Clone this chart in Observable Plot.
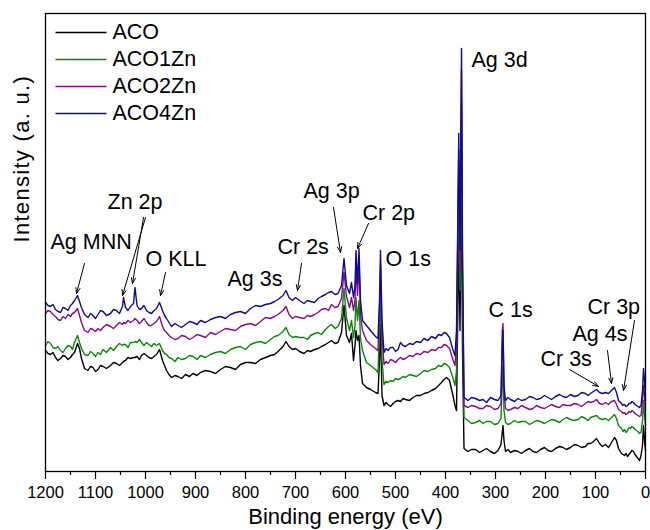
<!DOCTYPE html>
<html>
<head>
<meta charset="utf-8">
<script src="https://cdn.jsdelivr.net/npm/d3@7"></script>
<script src="https://cdn.jsdelivr.net/npm/@observablehq/plot@0.6"></script>
<style>
  html, body { margin: 0; padding: 0; background: #fff; }
  #chart svg { font-family: "Liberation Sans", Arial, sans-serif; }
</style>
</head>
<body>
<div id="chart"></div>
<script>
// Binding energy grid (eV)
const energy = [
  1200,1195,1190,1185,1180,1175,1170,1165,1160,1155,
  1150,1146,1142,1136,1132,1128,1122,1115,1110,1105,
  1100,1095,1090,1085,1078,1070,1064,1058,1052,1046,
  1044,1040,1035,1030,1024,1021,1017,1012,1008,1003,
  998,993,988,983,978,972,966,962,958,953,
  948,941,935,928,920,912,905,897,890,880,
  870,860,850,840,830,820,810,800,790,780,
  770,760,750,742,735,725,719,713,706,700,
  692,683,676,670,662,655,648,640,634,628,
  621,615,608,603,598,592,588,584,581,579,
  576,573,570,566,558,550,540,535,532,530,
  527,523,519,515,510,505,500,495,490,485,
  480,472,465,458,450,443,435,428,420,414,
  408,403,398,392,386,381,378,375,373.5,371,
  368,366,363,355,348,340,332,325,318,310,
  302,295,289,286.5,285,283,280,275,270,262,
  255,248,240,232,225,218,210,202,195,188,
  180,172,165,158,150,142,135,128,120,115,
  110,104,98,92,86,80,74,68,62,58,
  54,48,45,42,39,36,33,30,27,24,
  21,18,15,12,9,6,4,2,0
];
// Intensities (a. u.)
const aco = [
  150,147,146,148,143,140,142,145,144,141,
  143,146,148,157,152,142,132,130,134,133,
  129,131,135,134,132,135,138,137,135,138,
  139,140,143,142,143,143,144,141,145,147,
  145,143,142,144,146,151,140,135,130,126,
  123,125,124,122,126,124,127,125,128,130,
  129,127,131,134,133,131,136,138,138,137,
  141,143,145,146,149,154,159,154,151,152,
  149,147,150,149,151,152,154,156,158,160,
  157,158,168,195,165,158,167,140,155,170,
  160,165,135,117,113,111,108,107,140,177,
  105,95,98,96,94,97,99,100,99,102,
  101,100,103,105,105,107,108,110,112,115,
  118,121,123,120,107,95,90,200,270,170,
  340,150,52,49,51,51,48,50,52,49,
  47,50,56,68,75,60,49,51,48,50,
  49,47,50,52,49,48,51,53,50,49,
  52,54,53,51,53,56,55,53,54,57,
  57,59,62,57,54,56,53,58,63,60,
  52,47,46,45,47,44,46,48,50,49,
  46,44,42,40,45,55,75,60,50
];
const aco1zn = [
  155,159,157,153,152,154,150,148,152,155,
  154,151,158,165,158,152,146,145,149,147,
  144,148,146,151,148,153,150,154,157,155,
  156,156,153,158,158,159,158,161,158,155,
  158,156,154,157,155,157,150,147,146,143,
  142,139,143,141,142,145,144,141,145,143,
  146,148,149,147,151,153,154,151,156,158,
  159,157,161,164,165,169,173,166,163,164,
  163,163,161,165,167,168,166,171,174,176,
  172,174,182,212,182,170,180,163,175,203,
  180,200,162,150,138,135,131,128,170,210,
  140,116,119,118,120,119,122,121,122,124,
  123,126,125,124,127,130,129,131,132,135,
  134,137,136,133,124,115,130,260,325,210,
  400,200,83,80,77,78,80,77,79,79,
  76,77,82,120,135,90,78,76,77,80,
  78,79,79,76,78,80,79,77,79,81,
  80,78,81,83,81,80,81,84,82,80,
  83,84,85,82,81,82,80,83,86,82,
  75,72,69,71,68,70,73,72,74,73,
  71,70,69,67,68,80,100,85,75
];
const aco2zn = [
  187,190,189,186,184,181,180,184,182,186,
  184,187,188,192,185,178,170,168,172,171,
  169,172,170,173,176,174,172,175,178,176,
  178,177,180,178,180,182,180,177,179,182,
  178,175,175,177,179,184,174,170,168,165,
  163,161,162,165,164,161,163,166,165,163,
  168,166,169,172,171,170,174,176,177,175,
  179,183,182,184,186,190,194,186,182,184,
  183,182,185,184,186,188,191,192,190,196,
  193,194,202,228,204,193,203,190,200,235,
  205,238,185,170,160,156,152,150,190,235,
  165,136,139,137,141,140,138,141,143,141,
  142,145,144,147,146,149,148,151,150,153,
  153,156,155,152,142,135,155,285,350,230,
  430,230,95,93,95,94,92,92,95,94,
  91,92,97,170,177,110,92,90,91,93,
  92,95,93,91,92,95,93,92,94,96,
  94,93,96,95,95,97,96,94,97,99,
  98,99,101,97,96,98,96,99,100,96,
  91,89,87,88,86,87,89,88,90,89,
  87,86,85,84,85,100,115,105,90
];
const aco4zn = [
  198,195,194,196,191,189,188,193,192,190,
  195,197,200,205,199,193,186,183,187,185,
  182,186,190,189,185,187,191,190,187,194,
  203,193,190,194,197,213,195,191,192,195,
  190,188,187,190,192,198,190,185,182,178,
  174,177,175,173,176,179,178,176,180,178,
  181,183,184,182,186,188,189,187,192,195,
  194,196,197,199,201,205,210,203,200,203,
  200,197,200,199,198,202,204,206,208,209,
  206,207,215,242,215,207,218,203,215,250,
  217,252,200,180,175,170,164,162,200,250,
  180,148,152,150,153,153,149,151,158,155,
  154,157,156,159,158,162,160,164,162,166,
  165,168,167,163,152,145,170,300,367,250,
  452,250,103,100,103,102,100,101,98,103,
  101,100,105,155,170,115,100,103,101,99,
  102,100,101,104,103,101,102,105,103,101,
  104,106,104,103,106,104,105,108,107,105,
  107,109,111,108,107,108,107,110,113,108,
  100,97,95,96,94,95,97,97,99,98,
  96,95,94,93,95,110,132,120,100
];
const seriesNames = ["ACO", "ACO1Zn", "ACO2Zn", "ACO4Zn"];
const seriesValues = [aco, aco1zn, aco2zn, aco4zn];
const seriesColors = ["#000000", "#0a860a", "#880a88", "#0c0c92"];

const majorTicks = [1200,1100,1000,900,800,700,600,500,400,300,200,100,0];
const minorTicks = [1150,1050,950,850,750,650,550,450,350,250,150,50];

// Peak annotations: label, text position (E, I), arrows
const peakLabels = ["Ag MNN","Zn 2p","O KLL","Ag 3s","Cr 2s","Ag 3p","Cr 2p","O 1s","Ag 3d","C 1s","Cr 3s","Ag 4s","Cr 3p"];
const peakLabelE = [1190,1076,1000,836,736,684,566,520,348,314,210,146,116];
const peakLabelI = [252,292,235,215,247,303,281,235,434,184,135,160,187];
const arrowE1 = [1122,1000,1004,960,688,624,554,152,76,22];
const arrowI1 = [237,283,283,228,237,293,277,131,150,180];
const arrowE2 = [1138,1046,1026,970,696,610,576,94,68,44];
const arrowI2 = [207,205,217,205,210,248,252,114,117,110];

// Legend placement (data space, inside the frame, top-left)
const legendE1 = 1180, legendE2 = 1078, legendTextE = 1066;
const legendI = [468,441,414,387];

const lineData = seriesNames.map((name, k) =>
  energy.map((e, i) => ({series: name, energy: e, intensity: seriesValues[k][i]})));
const labelData = peakLabels.map((t, i) => ({t, e: peakLabelE[i], v: peakLabelI[i]}));
const arrowData = arrowE1.map((e, i) => ({x1: e, y1: arrowI1[i], x2: arrowE2[i], y2: arrowI2[i]}));
const legendData = seriesNames.map((name, i) => ({name, color: seriesColors[i], v: legendI[i]}));

const font = "Liberation Sans, Arial, sans-serif";

const plot = Plot.plot({
  width: 650,
  height: 530,
  marginTop: 13,
  marginRight: 5,
  marginBottom: 59,
  marginLeft: 45,
  style: {fontFamily: font, background: "#fff", color: "#000"},
  x: {domain: [1200, 0]},
  y: {domain: [29, 487], axis: null},
  marks: [
    ...lineData.map((d, k) => Plot.line(d, {x: "energy", y: "intensity", stroke: seriesColors[k], strokeWidth: 1.4})),
    Plot.axisX({ticks: minorTicks, tickSize: 4, text: null, label: null, strokeWidth: 1.2}),
    Plot.axisX({ticks: majorTicks, tickSize: 8, tickPadding: 7, fontSize: 16.5, label: null, strokeWidth: 1.2, tickFormat: d => String(d)}),
    Plot.frame({stroke: "#000", strokeWidth: 1.3}),
    Plot.arrow(arrowData, {x1: "x1", y1: "y1", x2: "x2", y2: "y2", stroke: "#000", strokeWidth: 1, headLength: 9, headAngle: 40}),
    Plot.text(labelData, {x: "e", y: "v", text: "t", textAnchor: "start", lineAnchor: "bottom", fontSize: 21.5, fill: "#000"}),
    Plot.link(legendData, {x1: legendE1, x2: legendE2, y1: "v", y2: "v", stroke: "color", strokeWidth: 1.5}),
    Plot.text(legendData, {x: legendTextE, y: "v", text: "name", textAnchor: "start", lineAnchor: "middle", fontSize: 21.5, fill: "#000"}),
    Plot.text(["Binding energy (eV)"], {frameAnchor: "bottom", dy: 45, fontSize: 22, lineAnchor: "middle", fill: "#000"}),
    Plot.text(["Intensity (a. u.)"], {frameAnchor: "left", dx: -24, rotate: -90, fontSize: 22, lineAnchor: "middle", fill: "#000"})
  ]
});
d3.select(plot).selectAll("text").filter(function() { return this.textContent === "Intensity (a. u.)"; })
  .style("letter-spacing", "1.3px");
document.getElementById("chart").appendChild(plot);
</script>
</body>
</html>
